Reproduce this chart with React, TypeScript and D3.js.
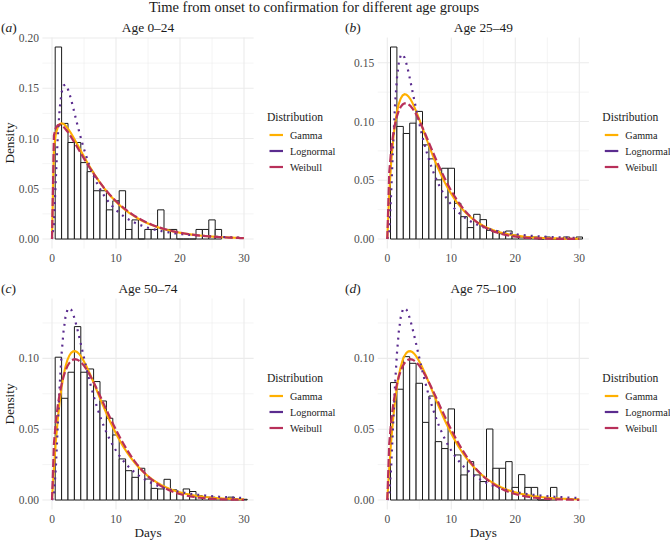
import React from "react";
import * as d3 from "d3";

// ---------- data ----------
const panelTags = ["a", "b", "c", "d"];
const panelTitles = ["Age 0–24", "Age 25–49", "Age 50–74", "Age 75–100"];
const chartTitle = "Time from onset to confirmation for different age groups";
const seriesNames = ["Gamma", "Lognormal", "Weibull"];

// histogram densities, bins of width 1 centred on day 1, 2, 3, ...
const densityA = [0.191, 0.115, 0.096, 0.096, 0.076, 0.067, 0.048, 0.048, 0.029, 0.038, 0.048, 0.0095, 0.019, 0, 0.0095, 0.0095, 0.029, 0.0095, 0.0095, 0, 0, 0, 0.0095, 0.0095, 0.019, 0.0095];
const densityB = [0.1634, 0.0958, 0.0898, 0.0986, 0.1086, 0.0801, 0.0682, 0.0503, 0.0602, 0.0602, 0.0304, 0.019, 0.0097, 0.021, 0.0165, 0.0074, 0.0068, 0.0045, 0.0068, 0.0034, 0.0017, 0.0017, 0.0017, 0, 0.0017, 0, 0, 0.0017, 0, 0.0017];
const densityC = [0.1008, 0.0718, 0.0902, 0.1224, 0.0902, 0.0925, 0.0836, 0.0699, 0.0577, 0.0459, 0.029, 0.0207, 0.016, 0.0224, 0.0148, 0.0082, 0.0078, 0.0146, 0.0072, 0.005, 0.0078, 0.006, 0.003, 0.002, 0.002, 0.001, 0.001, 0.002, 0.0005, 0.0005];
const densityD = [0.0829, 0.0782, 0.1012, 0.0965, 0.0824, 0.0548, 0.0734, 0.0412, 0.0363, 0.0643, 0.0318, 0.0177, 0.0271, 0.0177, 0.013, 0.0501, 0.0224, 0.0224, 0.0271, 0.0089, 0.0179, 0.0089, 0.0089, 0, 0, 0.0089];
const densities = [densityA, densityB, densityC, densityD];

// fitted distribution parameters per panel
const gammaShape = [1.3, 1.87, 2.0, 2.0];
const gammaRate = [0.2, 0.316, 0.2857, 0.2857];
const lognormalMeanlog = [1.468, 1.473, 1.625, 1.625];
const lognormalSdlog = [0.88, 0.8, 0.795, 0.795];
const weibullShape = [1.15, 1.45, 1.5, 1.5];
const weibullScale = [6.8, 6.4, 7.5, 7.5];

const xTicks = [0, 10, 20, 30];
const xMinor = [5, 15, 25];

// ---------- styles ----------
const COLORS = { Gamma: "#FFB000", Lognormal: "#5B2C8F", Weibull: "#B8305A" };
const FONT = "'Liberation Serif', 'DejaVu Serif', serif";
const PW = 211.2;
const PH = 211.2;
const colX = [42.4, 377.7];
const rowY = [37.4, 298.4];

// ---------- math ----------
function logGamma(z: number): number {
  const g = 7;
  const c = [0.99999999999980993, 676.5203681218851, -1259.1392167224028, 771.32342877765313,
    -176.61502916214059, 12.507343278686905, -0.13857109526572012, 9.9843695780195716e-6, 1.5056327351493116e-7];
  if (z < 0.5) return Math.log(Math.PI / Math.sin(Math.PI * z)) - logGamma(1 - z);
  z -= 1;
  let x = c[0];
  for (let i = 1; i < g + 2; i++) x += c[i] / (z + i);
  const t = z + g + 0.5;
  return 0.5 * Math.log(2 * Math.PI) + (z + 0.5) * Math.log(t) - t + Math.log(x);
}
const gammaPdf = (x: number, k: number, r: number) =>
  x <= 0 ? 0 : Math.exp(k * Math.log(r) + (k - 1) * Math.log(x) - r * x - logGamma(k));
const lnormPdf = (x: number, mu: number, s: number) =>
  x <= 0 ? 0 : Math.exp(-((Math.log(x) - mu) ** 2) / (2 * s * s)) / (x * s * Math.sqrt(2 * Math.PI));
const weibullPdf = (x: number, k: number, l: number) =>
  x <= 0 ? 0 : (k / l) * Math.pow(x / l, k - 1) * Math.exp(-Math.pow(x / l, k));

const xs = d3.range(0, 30.0001, 0.3);

function Panel({ i }: { i: number }) {
  const col = i % 2;
  const row = Math.floor(i / 2);
  const x0 = colX[col];
  const y0 = rowY[row];
  const dens = densities[i];
  const curves = {
    Gamma: xs.map((x) => [x, gammaPdf(x, gammaShape[i], gammaRate[i])] as [number, number]),
    Lognormal: xs.map((x) => [x, lnormPdf(x, lognormalMeanlog[i], lognormalSdlog[i])] as [number, number]),
    Weibull: xs.map((x) => [x, weibullPdf(x, weibullShape[i], weibullScale[i])] as [number, number]),
  };
  const maxY = Math.max(
    d3.max(dens) as number,
    ...Object.values(curves).map((c) => d3.max(c, (d) => d[1]) as number)
  );
  const x = d3.scaleLinear().domain([-1.5, 31.5]).range([x0, x0 + PW]);
  const y = d3.scaleLinear().domain([-0.05 * maxY, 1.05 * maxY]).range([y0 + PH, y0]);
  const yTicks = d3.range(0, 1.05 * maxY + 1e-9, 0.05);
  const yMinor = d3.range(0.025, 1.05 * maxY, 0.05).filter((v) => Math.abs((v / 0.05) % 1) > 0.1);
  const line = d3.line<[number, number]>().x((d) => x(d[0])).y((d) => y(d[1]));

  return (
    <g>
      {/* grid */}
      {yMinor.map((v) => (
        <line key={"ym" + v} x1={x0} x2={x0 + PW} y1={y(v)} y2={y(v)} stroke="#EBEBEB" strokeWidth={0.55} />
      ))}
      {xMinor.map((v) => (
        <line key={"xm" + v} x1={x(v)} x2={x(v)} y1={y0} y2={y0 + PH} stroke="#EBEBEB" strokeWidth={0.55} />
      ))}
      {yTicks.map((v) => (
        <line key={"y" + v} x1={x0} x2={x0 + PW} y1={y(v)} y2={y(v)} stroke="#EBEBEB" strokeWidth={1.07} />
      ))}
      {xTicks.map((v) => (
        <line key={"x" + v} x1={x(v)} x2={x(v)} y1={y0} y2={y0 + PH} stroke="#EBEBEB" strokeWidth={1.07} />
      ))}
      {/* histogram */}
      {dens.map((d, j) => {
        const l = x(j + 0.5);
        const r = x(j + 1.5);
        const b = y(0);
        const t = y(d);
        return (
          <path key={"b" + j} d={`M${l},${b}V${t}H${r}V${b}Z`} fill="white" stroke="#1a1a1a" strokeWidth={1} />
        );
      })}
      {/* curves */}
      <path d={line(curves.Gamma) || ""} fill="none" stroke={COLORS.Gamma} strokeWidth={2.1} />
      <path d={line(curves.Lognormal) || ""} fill="none" stroke={COLORS.Lognormal} strokeWidth={2.2} strokeDasharray="2 5" />
      <path d={line(curves.Weibull) || ""} fill="none" stroke={COLORS.Weibull} strokeWidth={2.2} strokeDasharray="8 3" />
      {/* axes labels */}
      {yTicks.map((v) => (
        <text key={"yl" + v} x={x0 - 3.5} y={y(v)} dy="0.35em" textAnchor="end" fontSize={11.5} fill="#4D4D4D" fontFamily={FONT}>
          {v.toFixed(2)}
        </text>
      ))}
      {xTicks.map((v) => (
        <text key={"xl" + v} x={x(v)} y={y0 + PH + 13.4} textAnchor="middle" fontSize={11.5} fill="#4D4D4D" fontFamily={FONT}>
          {v}
        </text>
      ))}
      {/* strip title */}
      <text x={x0 + PW / 2} y={y0 - 5.5} textAnchor="middle" fontSize={13.4} fill="#1a1a1a" fontFamily={FONT}>
        {panelTitles[i]}
      </text>
      {/* tag */}
      <text x={col === 0 ? 1 : 345} y={y0 - 5.5} fontSize={13.5} fill="#1a1a1a" fontFamily={FONT}>
        (<tspan fontStyle="italic">{panelTags[i]}</tspan>)
      </text>
      {/* legend */}
      <g transform={`translate(${x0 + 224.6},${y0})`}>
        <text x={0} y={84} fontSize={11.6} fill="#1a1a1a" fontFamily={FONT}>Distribution</text>
        {seriesNames.map((s, k) => (
          <g key={s} transform={`translate(0,${97.6 + k * 16})`}>
            <line x1={2.5} x2={16} y1={0} y2={0} stroke={(COLORS as any)[s]} strokeWidth={2.2} />
            <text x={23} y={3.6} fontSize={10.2} fill="#1a1a1a" fontFamily={FONT}>{s}</text>
          </g>
        ))}
      </g>
      {/* axis titles */}
      {row === 1 && (
        <text x={x0 + PW / 2} y={y0 + PH + 27} textAnchor="middle" fontSize={13.2} fill="#1a1a1a" fontFamily={FONT}>
          Days
        </text>
      )}
      {col === 0 && (
        <text transform={`translate(14,${y0 + PH / 2}) rotate(-90)`} textAnchor="middle" fontSize={13.2} fill="#1a1a1a" fontFamily={FONT}>
          Density
        </text>
      )}
    </g>
  );
}

export default function App() {
  return (
    <svg width={670} height={541} style={{ display: "block", position: "absolute", left: 0, top: 0, background: "white" }}>
      <rect width={670} height={541} fill="white" />
      <text x={314} y={12} textAnchor="middle" fontSize={14.5} fill="#1a1a1a" fontFamily={FONT}>
        {chartTitle}
      </text>
      {[0, 1, 2, 3].map((i) => (
        <Panel key={i} i={i} />
      ))}
    </svg>
  );
}
